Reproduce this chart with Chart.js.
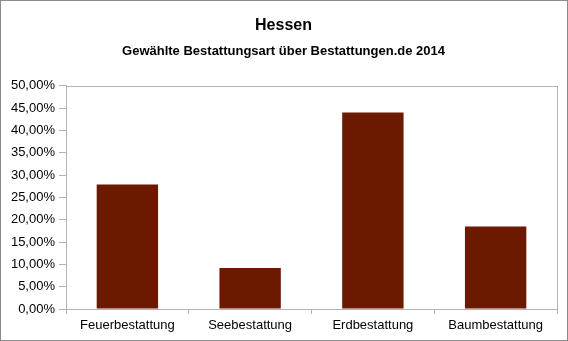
<!DOCTYPE html>
<html>
<head>
<meta charset="utf-8">
<script src="https://cdn.jsdelivr.net/npm/chart.js@4"></script>
<style>
  html, body { margin: 0; padding: 0; background: #fff; }
  #wrap { width: 568px; height: 341px; }
</style>
</head>
<body>
<div id="wrap"><canvas id="hessenChart" width="568" height="341"></canvas></div>
<script>
const aCategories = ["Feuerbestattung", "Seebestattung", "Erdbestattung", "Baumbestattung"];
const aShares = [27.9, 9.2, 44.0, 18.5];
const aTickSteps = { min: 0, max: 50, step: 5 };
const sBarColour = "#6b1a00";
const sLineColour = "#b3b3b3";

// outer frame + box around the plot area
const framePlugin = {
    id: "frame",
    afterDraw(chart) {
        const ctx = chart.ctx;
        const a = chart.chartArea;
        ctx.save();
        ctx.strokeStyle = sLineColour;
        ctx.lineWidth = 1;
        ctx.strokeRect(Math.round(a.left) + 0.5, Math.round(a.top) + 0.5, Math.round(a.right - a.left), Math.round(a.bottom - a.top));
        ctx.strokeStyle = "#8c8c8c";
        ctx.strokeRect(0.5, 0.5, chart.width - 1, chart.height - 1);
        ctx.restore();
    }
};

function fmtPercent(v) {
    return v.toFixed(2).replace(".", ",") + "%";
}

Chart.defaults.font.family = "'Liberation Sans', Arial, sans-serif";
Chart.defaults.color = "#000";

new Chart(document.getElementById("hessenChart").getContext("2d"), {
    type: "bar",
    data: {
        labels: aCategories,
        datasets: [{
            label: "Anteil",
            data: aShares,
            backgroundColor: sBarColour,
            borderWidth: 0,
            categoryPercentage: 1,
            barPercentage: 0.5
        }]
    },
    options: {
        responsive: false,
        animation: false,
        layout: {
            padding: { left: 10, right: 11, top: 0, bottom: 0 }
        },
        plugins: {
            legend: { display: false },
            tooltip: { enabled: false },
            title: {
                display: true,
                text: "Hessen",
                font: { size: 16, weight: "bold" },
                padding: { top: 16, bottom: 8 }
            },
            subtitle: {
                display: true,
                text: "Gewählte Bestattungsart über Bestattungen.de 2014",
                font: { size: 13, weight: "bold" },
                color: "#000",
                padding: { top: 0, bottom: 27 }
            }
        },
        scales: {
            x: {
                offset: true,
                afterFit(scale) { scale.height = 32; },
                grid: {
                    offset: true,
                    drawOnChartArea: false,
                    drawTicks: true,
                    tickLength: 5,
                    color: sLineColour
                },
                border: { display: true, color: sLineColour },
                ticks: { font: { size: 13 }, padding: 4, maxRotation: 0 }
            },
            y: {
                min: aTickSteps.min,
                max: aTickSteps.max,
                afterFit(scale) { scale.width = 56; },
                grid: {
                    drawOnChartArea: false,
                    drawTicks: true,
                    tickLength: 7,
                    color: sLineColour
                },
                border: { display: true, color: sLineColour },
                ticks: {
                    stepSize: aTickSteps.step,
                    font: { size: 13 },
                    padding: 4,
                    callback: (v) => fmtPercent(v)
                }
            }
        }
    },
    plugins: [framePlugin]
});
</script>
</body>
</html>
